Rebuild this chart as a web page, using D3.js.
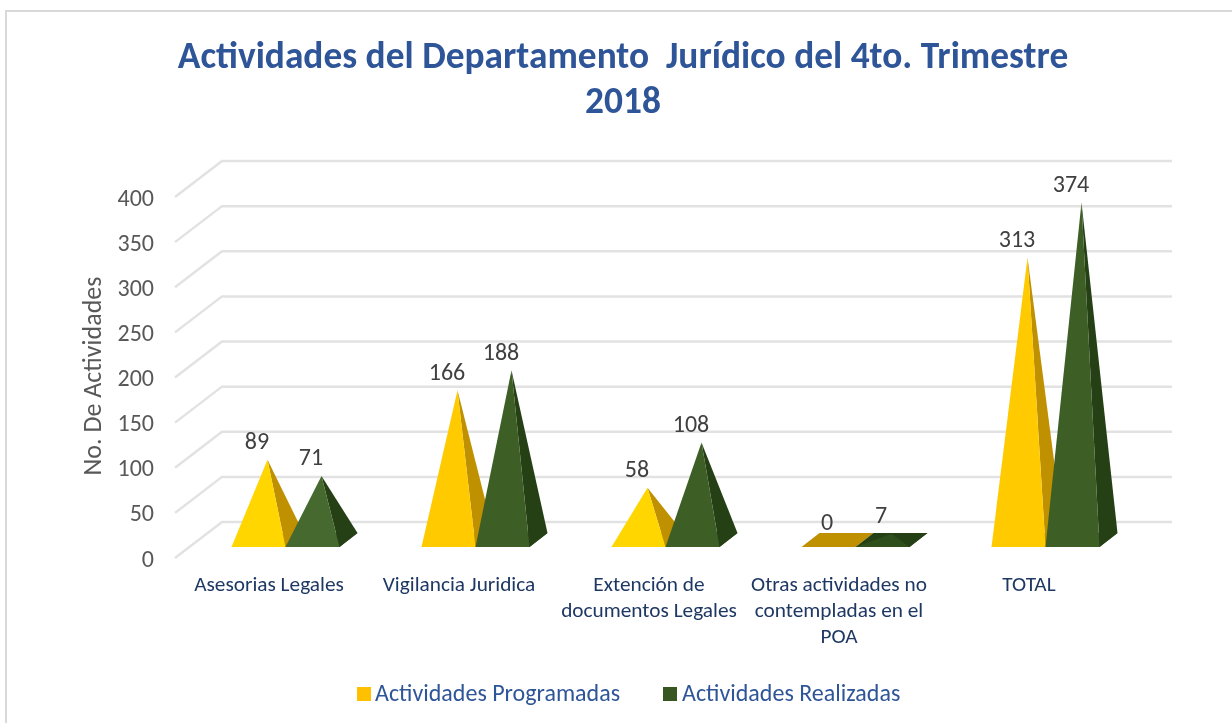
<!DOCTYPE html>
<html>
<head>
<meta charset="utf-8">
<style>
    html, body { margin: 0; padding: 0; background: #fff; }
    svg { display: block; font-family: Carlito, "Open Sans", "Noto Sans", sans-serif; }
</style>
<script src="https://d3js.org/d3.v7.min.js"></script>
</head>
<body>
<svg id="chart" width="1232" height="723"></svg>
<script>
    var categories = [["Asesorias Legales"], ["Vigilancia Juridica"], ["Extención de", "documentos Legales"], ["Otras actividades no", "contempladas en el", "POA"], ["TOTAL"]];
    var programadas = [89, 166, 58, 0, 313];
    var realizadas = [71, 188, 108, 7, 374];
    var yTicks = [0, 50, 100, 150, 200, 250, 300, 350, 400];
    var seriesNames = ["Actividades Programadas", "Actividades Realizadas"];

    var svg = d3.select("#chart");

    // the reference is a slightly soft bitmap
    svg.append("filter").attr("id", "soft").attr("x", "-5%").attr("y", "-5%").attr("width", "110%").attr("height", "110%")
        .append("feGaussianBlur").attr("stdDeviation", 0.45);
    var root = svg.append("g").attr("filter", "url(#soft)");
    root.append("rect").attr("width", 1232).attr("height", 723).attr("fill", "#fff");

    // panel border
    root.append("path").attr("d", "M6,723V11H1232").attr("fill", "none").attr("stroke", "#d9d9d9").attr("stroke-width", 2);

    // title
    var title = root.append("text").attr("text-anchor", "middle").attr("fill", "#2f5597")
        .attr("font-size", 37.4).attr("font-weight", "bold");
    title.append("tspan").attr("x", 623).attr("y", 67.5).attr("xml:space", "preserve").text("Actividades del Departamento  Jurídico del 4to. Trimestre");
    title.append("tspan").attr("x", 623).attr("y", 113).text("2018");

    // 3d offsets of the box
    var depth = { x: 18, y: -14 };

    var y = d3.scaleLinear().domain([0, 400]).range([540, 179]);
    var x = d3.scaleBand().domain(d3.range(categories.length)).range([190.5, 1140.5]);
    var barW = 54;

    // back wall gridlines and left floor diagonals
    var grid = root.append("g").attr("fill", "none").attr("stroke", "#e2e2e2").attr("stroke-width", 2.5);
    yTicks.forEach(function (t) {
        var yy = y(t) - 18;
        grid.append("path").attr("d", "M175," + (yy + 36) + "L222," + yy + "H1172");
    });

    // y axis labels
    var axis = root.append("g").attr("font-size", 24).attr("fill", "#595959").attr("text-anchor", "end");
    yTicks.forEach(function (t) {
        axis.append("text").attr("x", 154).attr("y", y(t) + 26.5).text(t);
    });
    root.append("text").attr("transform", "translate(101,376) rotate(-90)").attr("text-anchor", "middle")
        .attr("font-size", 26).attr("fill", "#595959").text("No. De Actividades");

    // one pyramid per value
    function pyramid(g, left, value, colors) {
        var base = y(0) + 7;
        var apex = [left + barW / 2 + depth.x / 2, y(value)];
        var fl = [left, base], fr = [left + barW, base];
        var bl = [left + depth.x, base + depth.y], br = [left + barW + depth.x, base + depth.y];
        g.append("polygon").attr("points", [fl, fr, br, bl].join(" ")).attr("fill", colors.side);
        if (value === 0) return;
        // short ones come out lighter in the original, nearly flat ones darker
        var front = value < 20 ? colors.flat : value < 100 ? colors.light : colors.front;
        g.append("polygon").attr("points", [fr, br, apex].join(" ")).attr("fill", colors.side);
        g.append("polygon").attr("points", [fl, fr, apex].join(" ")).attr("fill", front);
    }

    var gold = { front: "#ffcb00", light: "#ffd600", flat: "#bf9000", side: "#bf9000" };
    var green = { front: "#3d5f27", light: "#44692e", flat: "#2f4f1c", side: "#263f17" };
    var marks = root.append("g");
    categories.forEach(function (c, i) {
        var left = x(i) + x.bandwidth() / 2 - barW;
        pyramid(marks, left, programadas[i], gold);
        pyramid(marks, left + barW, realizadas[i], green);
    });

    // value labels
    var labels = root.append("g").attr("font-size", 24).attr("fill", "#404040").attr("text-anchor", "middle");
    categories.forEach(function (c, i) {
        var left = x(i) + x.bandwidth() / 2 - barW;
        labels.append("text").attr("x", left + 25.5).attr("y", y(programadas[i]) - 10.5).text(programadas[i]);
        labels.append("text").attr("x", left + barW + 25.5).attr("y", y(realizadas[i]) - 10.5).text(realizadas[i]);
    });

    // category labels
    var cats = root.append("g").attr("font-size", 21.3).attr("fill", "#1f3864").attr("text-anchor", "middle");
    categories.forEach(function (c, i) {
        var t = cats.append("text");
        c.forEach(function (line, j) {
            t.append("tspan").attr("x", x(i) + x.bandwidth() / 2 - 16.5).attr("y", 591 + j * 26).text(line);
        });
    });

    // legend
    var legend = root.append("g").attr("font-size", 24).attr("fill", "#2f5597");
    legend.append("rect").attr("x", 357).attr("y", 687).attr("width", 14).attr("height", 14).attr("fill", "#ffc000");
    legend.append("text").attr("x", 375).attr("y", 701).text(seriesNames[0]);
    legend.append("rect").attr("x", 663).attr("y", 687).attr("width", 14).attr("height", 14).attr("fill", "#375623");
    legend.append("text").attr("x", 682).attr("y", 701).text(seriesNames[1]);
</script>
</body>
</html>
